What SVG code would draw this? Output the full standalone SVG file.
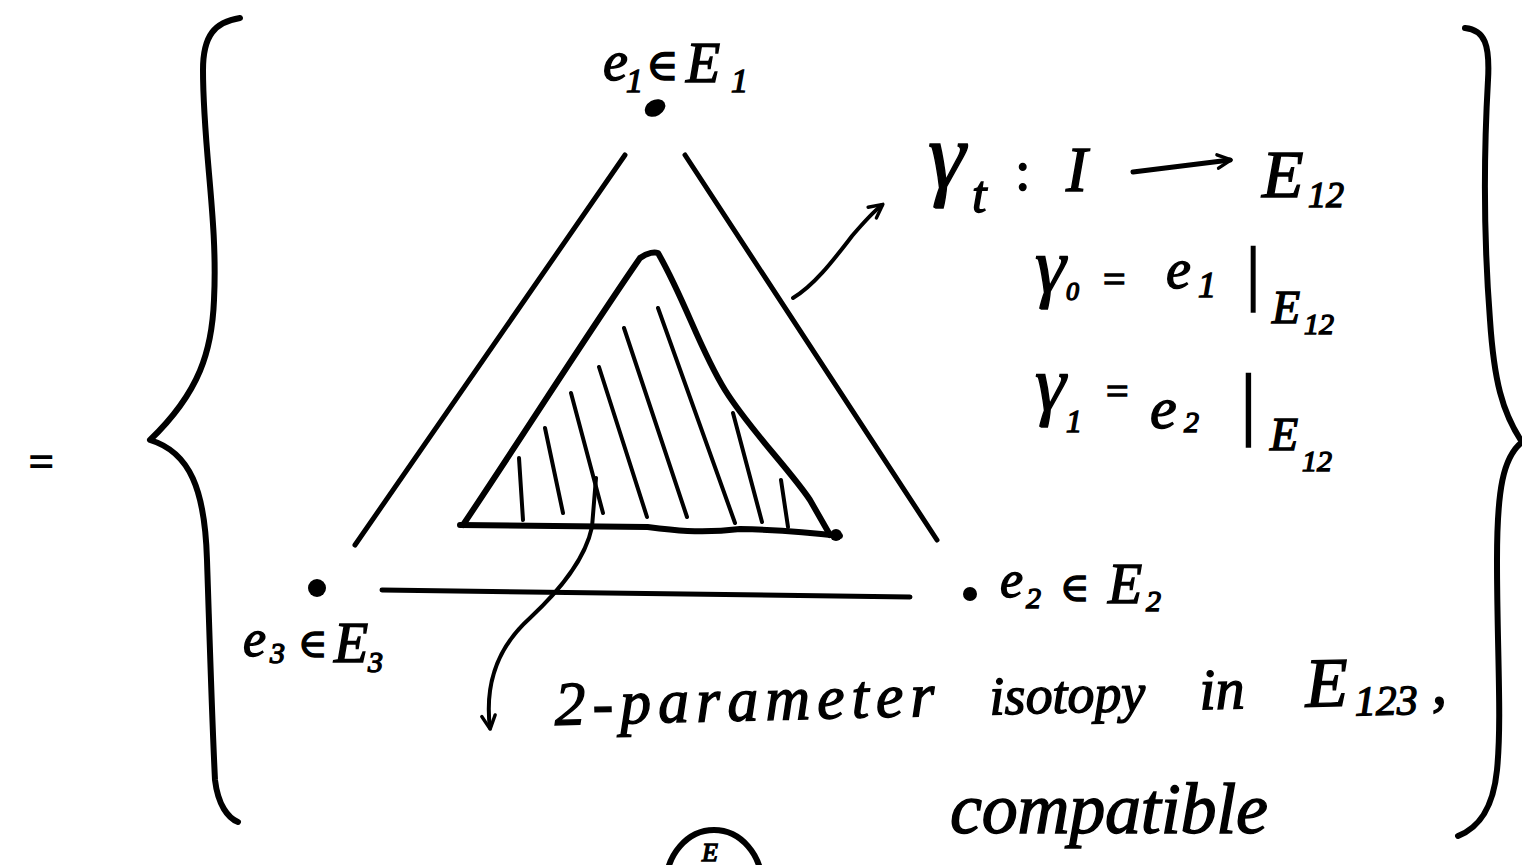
<svg xmlns="http://www.w3.org/2000/svg" width="1522" height="865" viewBox="0 0 1522 865">
<style>
.ink{stroke:#000;fill:none;stroke-linecap:round;stroke-linejoin:round}
.t{font-family:"Liberation Serif","DejaVu Serif",serif;font-style:italic;fill:#000;stroke:#000;stroke-width:1.4}
.dot{fill:#000}
</style>
<defs>
<marker id="ah" viewBox="0 0 16 16" refX="13" refY="8" markerWidth="18" markerHeight="18" markerUnits="userSpaceOnUse" orient="auto">
<path d="M2,2 L14,8 L2,14" fill="none" stroke="#000" stroke-width="3" stroke-linecap="round" stroke-linejoin="round"/>
</marker>
</defs>
<rect width="1522" height="865" fill="#fff"/>

<g id="equals">
<text class="t" x="26" y="476" font-size="44" font-style="normal">=</text>
</g>

<g id="brace-left">
<path class="ink" stroke-width="6" d="M240,18 C215,22 203,35 203,70 C203,150 218,220 214,300 C212,350 200,392 150,440 C190,452 205,490 207,560 C210,650 212,720 215,780 C218,805 228,818 238,822"/>
</g>
<g id="brace-right">
<path class="ink" stroke-width="6" d="M1465,28 C1485,30 1490,45 1488,80 C1484,150 1483,230 1490,320 C1494,380 1502,412 1522,442 C1503,457 1497,490 1497,560 C1497,650 1502,720 1497,770 C1493,810 1478,828 1458,836"/>
</g>

<g id="outer-triangle">
<line class="ink" stroke-width="5" x1="625" y1="155" x2="355" y2="545"/>
<line class="ink" stroke-width="5" x1="685" y1="155" x2="937" y2="540"/>
<line class="ink" stroke-width="5" x1="382" y1="590" x2="910" y2="597"/>
</g>

<g id="inner-triangle">
<path class="ink" stroke-width="6" d="M463,525 C520,440 590,330 640,258 C648,252 655,252 658,253 C685,300 700,350 725,390 C750,430 790,470 810,500 L830,535"/>
<path class="ink" stroke-width="6" d="M460,525 C530,526 600,526 647,527 C670,530 700,534 740,529 C780,530 815,533 840,536"/>
<circle class="dot" cx="836" cy="535" r="6"/>
<g class="ink" stroke-width="4">
<line x1="519" y1="458" x2="523" y2="520"/>
<line x1="545" y1="428" x2="563" y2="513"/>
<line x1="571" y1="393" x2="603" y2="513"/>
<line x1="599" y1="367" x2="647" y2="517"/>
<line x1="624" y1="328" x2="687" y2="517"/>
<line x1="658" y1="308" x2="735" y2="523"/>
<line x1="733" y1="413" x2="762" y2="522"/>
<line x1="781" y1="480" x2="788" y2="527"/>
</g>
</g>

<g id="node-e1">
<ellipse class="dot" cx="655" cy="108" rx="11" ry="8" transform="rotate(-30 655 108)"/>
<text class="t" font-size="56"><tspan x="603" y="80">e</tspan><tspan x="626" y="92" font-size="34">1</tspan><tspan x="646" y="80" font-size="44">∈</tspan><tspan x="686" y="82">E</tspan><tspan x="731" y="92" font-size="34">1</tspan></text>
</g>

<g id="node-e2">
<circle class="dot" cx="970" cy="594" r="7"/>
<text class="t" font-size="52"><tspan x="1000" y="597">e</tspan><tspan x="1026" y="608" font-size="30">2</tspan><tspan x="1060" y="601" font-size="40">∈</tspan><tspan x="1108" y="603" font-size="56">E</tspan><tspan x="1146" y="611" font-size="30">2</tspan></text>
</g>

<g id="node-e3">
<circle class="dot" cx="317" cy="588" r="9"/>
<text class="t" font-size="52"><tspan x="243" y="656">e</tspan><tspan x="270" y="663" font-size="30">3</tspan><tspan x="298" y="657" font-size="40">∈</tspan><tspan x="334" y="662" font-size="56">E</tspan><tspan x="368" y="672" font-size="30">3</tspan></text>
</g>

<g id="label-gamma">
<text class="t"><tspan x="928" y="188" font-size="95">γ</tspan><tspan x="972" y="212" font-size="52">t</tspan><tspan x="1015" y="190" font-size="56" font-style="normal">:</tspan><tspan x="1066" y="191" font-size="64">I</tspan><tspan x="1262" y="197" font-size="68">E</tspan><tspan x="1308" y="207" font-size="36">12</tspan></text>
<text class="t"><tspan x="1035" y="292" font-size="78">γ</tspan><tspan x="1066" y="300" font-size="26">0</tspan><tspan x="1103" y="293" font-size="40" font-style="normal">=</tspan><tspan x="1166" y="288" font-size="56">e</tspan><tspan x="1198" y="297" font-size="36">1</tspan><tspan x="1242" y="297" font-size="72">|</tspan><tspan x="1272" y="323" font-size="46">E</tspan><tspan x="1304" y="334" font-size="30">12</tspan></text>
<text class="t"><tspan x="1035" y="410" font-size="78">γ</tspan><tspan x="1066" y="432" font-size="32">1</tspan><tspan x="1106" y="405" font-size="40" font-style="normal">=</tspan><tspan x="1150" y="428" font-size="60">e</tspan><tspan x="1184" y="432" font-size="30">2</tspan><tspan x="1236" y="430" font-size="80">|</tspan><tspan x="1270" y="450" font-size="46">E</tspan><tspan x="1302" y="471" font-size="30">12</tspan></text>
</g>

<g id="label-isotopy" transform="rotate(-1.4 560 725)">
<text class="t" font-size="62"><tspan x="555" y="725" textLength="380" lengthAdjust="spacing">2-parameter</tspan><tspan x="990" y="725" font-size="54">isotopy</tspan><tspan x="1200" y="725" font-size="58">in</tspan><tspan x="1306" y="725" font-size="70">E</tspan><tspan x="1355" y="735" font-size="42">123</tspan><tspan x="1432" y="725">,</tspan></text>
</g>

<g id="label-compatible">
<text class="t" x="950" y="833" font-size="72" textLength="318" lengthAdjust="spacing">compatible</text>
</g>

<g id="circled-mark">
<ellipse class="ink" stroke-width="6" cx="714" cy="885" rx="48" ry="55"/>
<text class="t" x="702" y="861" font-size="26">E</text>
</g>

<g id="connectors">
<path class="ink" stroke-width="4" d="M793,298 C815,285 835,258 852,236 C864,222 873,212 882,205" marker-end="url(#ah)"/>
<path class="ink" stroke-width="4" d="M596,478 L592,527 C585,560 560,590 530,618 C500,645 484,680 490,728" marker-end="url(#ah)"/>
<path class="ink" stroke-width="5" d="M1133,172 L1230,160" marker-end="url(#ah)"/>
</g>
</svg>
